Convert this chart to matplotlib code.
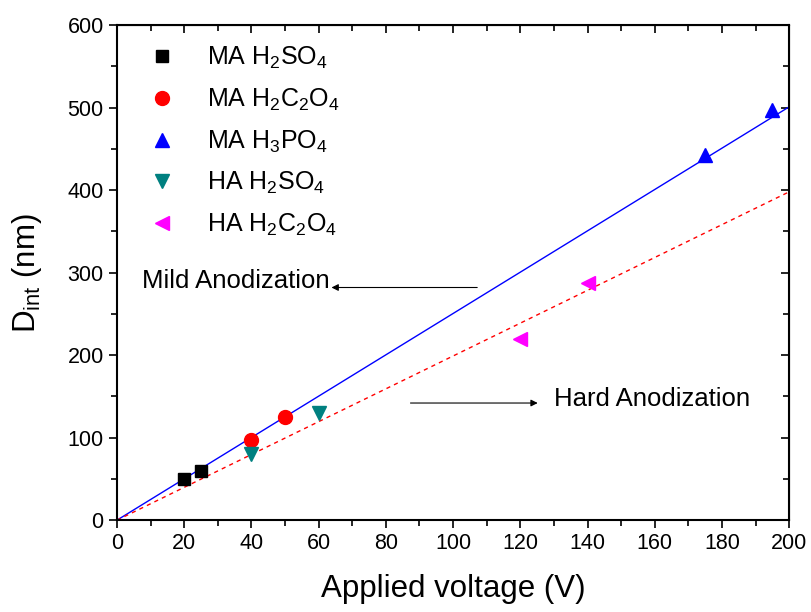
import numpy as np
import matplotlib
matplotlib.use("Agg")
import matplotlib.pyplot as plt
from matplotlib.ticker import MultipleLocator

plt.rcParams['font.family'] = ['Liberation Sans', 'DejaVu Sans']
plt.rcParams['mathtext.fontset'] = 'custom'
plt.rcParams['mathtext.rm'] = 'Liberation Sans'
plt.rcParams['mathtext.it'] = 'Liberation Sans:italic'

# data
ma_h2so4_v = [20, 25]
ma_h2so4_d = [50, 60]
ma_h2c2o4_v = [40, 50]
ma_h2c2o4_d = [97, 125]
ma_h3po4_v = [175, 195]
ma_h3po4_d = [442, 497]
ha_h2so4_v = [40, 60]
ha_h2so4_d = [80, 130]
ha_h2c2o4_v = [120, 140]
ha_h2c2o4_d = [220, 287]

# fitted lines through the origin
fit_v = [0, 200]
mild_fit = [0, 501]
hard_fit = [0, 398]

fig = plt.figure(figsize=(8.12, 6.12), dpi=100)
ax = fig.add_axes([0.144, 0.150, 0.828, 0.809])

ax.plot(fit_v, mild_fit, color='blue', lw=1.0, zorder=2)
ax.plot(fit_v, hard_fit, color='red', lw=1.0, ls=(0, (3, 3)), zorder=2)

ms = 10
ax.plot(ma_h2so4_v, ma_h2so4_d, 's', color='black', ms=9, ls='none', label='MA H$_2$SO$_4$', zorder=3)
ax.plot(ma_h2c2o4_v, ma_h2c2o4_d, 'o', color='red', ms=ms, ls='none', label='MA H$_2$C$_2$O$_4$', zorder=3)
ax.plot(ma_h3po4_v, ma_h3po4_d, '^', color='blue', ms=ms, ls='none', label='MA H$_3$PO$_4$', zorder=3)
ax.plot(ha_h2so4_v, ha_h2so4_d, 'v', color='#008080', ms=ms, ls='none', label='HA H$_2$SO$_4$', zorder=3)
ax.plot(ha_h2c2o4_v, ha_h2c2o4_d, '<', color='magenta', ms=ms, ls='none', label='HA H$_2$C$_2$O$_4$', zorder=3)

ax.annotate('', xy=(63, 282), xytext=(108, 282),
            arrowprops=dict(arrowstyle='-|>', color='black', lw=0.8, mutation_scale=10))
ax.text(7.5, 290, 'Mild Anodization', fontsize=18.5, va='center', ha='left')
ax.annotate('', xy=(126, 142), xytext=(86.5, 142),
            arrowprops=dict(arrowstyle='-|>', color='black', lw=0.8, mutation_scale=10))
ax.text(130, 147, 'Hard Anodization', fontsize=18.5, va='center', ha='left')

ax.set_xlim(0, 200)
ax.set_ylim(0, 600)
ax.xaxis.set_major_locator(MultipleLocator(20))
ax.xaxis.set_minor_locator(MultipleLocator(10))
ax.yaxis.set_major_locator(MultipleLocator(100))
ax.yaxis.set_minor_locator(MultipleLocator(50))
ax.tick_params(which='both', direction='out', labelsize=15.5, width=1.2, top=False, right=False)
ax.tick_params(which='major', length=6)
ax.tick_params(which='minor', length=4)
for s in ax.spines.values():
    s.set_linewidth(1.5)

# inward ticks on top and right
sec_x = ax.secondary_xaxis('top')
sec_x.xaxis.set_major_locator(MultipleLocator(20))
sec_x.xaxis.set_minor_locator(MultipleLocator(10))
sec_x.tick_params(which='both', direction='in', labeltop=False, width=1.2)
sec_x.tick_params(which='major', length=6)
sec_x.tick_params(which='minor', length=4)
sec_y = ax.secondary_yaxis('right')
sec_y.yaxis.set_major_locator(MultipleLocator(100))
sec_y.yaxis.set_minor_locator(MultipleLocator(50))
sec_y.tick_params(which='both', direction='in', labelright=False, width=1.2)
sec_y.tick_params(which='major', length=6)
sec_y.tick_params(which='minor', length=4)

ax.set_xlabel('Applied voltage (V)', fontsize=22.5, labelpad=14)
ax.set_ylabel('D$_{\\mathrm{int}}$ (nm)', fontsize=22.5, labelpad=17)

ax.legend(loc='upper left', frameon=False, fontsize=18, handletextpad=0.8,
          labelspacing=0.62, borderaxespad=0.4, bbox_to_anchor=(0.0, 1.0))

fig.savefig('out.png', dpi=100)
